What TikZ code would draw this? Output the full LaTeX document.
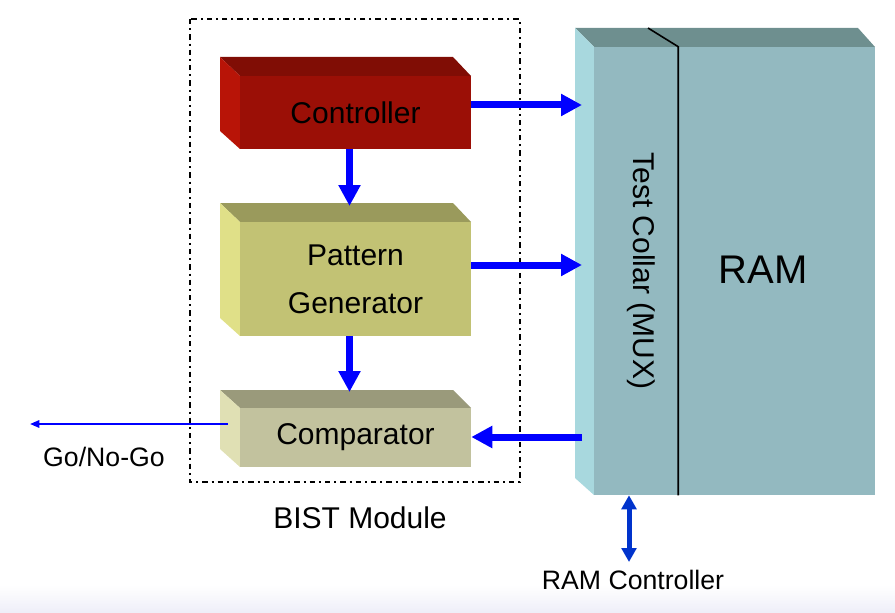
\documentclass[tikz,border=0pt]{standalone}
\usepackage{fontspec}
\setmainfont{Liberation Sans}
\usetikzlibrary{arrows.meta}

\definecolor{ctrlfront}{RGB}{155,15,6}
\definecolor{ctrltop}{RGB}{128,13,5}
\definecolor{ctrlside}{RGB}{184,20,7}
\definecolor{pgfront}{RGB}{194,194,116}
\definecolor{pgtop}{RGB}{154,154,92}
\definecolor{pgside}{RGB}{224,224,136}
\definecolor{cmpfront}{RGB}{194,194,158}
\definecolor{cmptop}{RGB}{154,154,123}
\definecolor{cmpside}{RGB}{224,224,180}
\definecolor{ramfront}{RGB}{147,185,192}
\definecolor{ramtop}{RGB}{110,143,143}
\definecolor{ramside}{RGB}{168,216,222}
\definecolor{busblue}{RGB}{0,0,255}
\definecolor{ctlblue}{RGB}{0,51,204}
\definecolor{bglav}{RGB}{238,238,248}

\tikzset{
  block/.style={inner sep=0pt, minimum width=173.25pt, font=\fontsize{22.5}{27}\selectfont, align=center},
  bus/.style={busblue, line width=5.25pt, -{Triangle[width=15.75pt,length=15.75pt]}},
  thinbus/.style={busblue, line width=1.5pt, -{Triangle[width=5.5pt,length=7pt]}},
  ctlbus/.style={ctlblue, line width=3.75pt, {Triangle[width=11pt,length=10.5pt]}-{Triangle[width=11pt,length=10.5pt]}},
  lbl/.style={inner sep=0pt, font=\fontsize{22.5}{27}\selectfont},
  smalllbl/.style={inner sep=0pt, font=\fontsize{20}{24}\selectfont},
}

\begin{document}
\begin{tikzpicture}[x=0.75pt,y=0.75pt,yscale=-1.0,xscale=1.0]
\useasboundingbox (0,0) rectangle (895,613);
\shade[top color=white, bottom color=bglav] (0,585) rectangle (895,613);

% BIST frame
\draw[line width=1.2pt, dash pattern=on 4pt off 3pt on 1.5pt off 3pt] (190,19) rectangle (520,482);
\node[lbl] (bist) at (360,518) {BIST Module};

% Controller
\fill[ctrltop] (240,76) -- (220,57) -- (453,57) -- (471,76) -- cycle;
\fill[ctrlside] (240,76) -- (220,57) -- (220,131) -- (240,149) -- cycle;
\node[block, fill=ctrlfront, minimum height=54.75pt] (ctrl) at (355.5,112.5) {Controller};

% Pattern Generator
\fill[pgtop] (240,222) -- (220,203) -- (453,203) -- (471,222) -- cycle;
\fill[pgside] (240,222) -- (220,203) -- (220,318) -- (240,336) -- cycle;
\node[block, fill=pgfront, minimum height=85.5pt] (pg) at (355.5,279) {Pattern\\[9pt]Generator};

% Comparator
\fill[cmptop] (240,408) -- (220,390) -- (453,390) -- (471,408) -- cycle;
\fill[cmpside] (240,408) -- (220,390) -- (220,449) -- (240,467) -- cycle;
\node[block, fill=cmpfront, minimum height=44.25pt] (cmp) at (355.5,437.5) {Comparator};

% RAM with test collar
\fill[ramtop] (594,47) -- (575,28) -- (858,28) -- (875,47) -- cycle;
\fill[ramside] (594,47) -- (575,28) -- (575,478) -- (594,495) -- cycle;
\node[inner sep=0pt, fill=ramfront, minimum width=63pt, minimum height=336pt] (collar) at (636,271) {};
\node[inner sep=0pt, fill=ramfront, minimum width=147.75pt, minimum height=336pt] (ram) at (776.5,271) {};
\draw[line width=1.2pt] (648,28) -- (collar.north east) -- (collar.south east);
\node[lbl, rotate=-90] (mux) at (641,271) {Test Collar (MUX)};
\node[inner sep=0pt, font=\fontsize{30}{36}\selectfont] (ramtxt) at (763,270) {RAM};

% arrow ends
\coordinate (c1) at (582,105);
\coordinate (c2) at (582,265);
\coordinate (c3) at (582,437);
\coordinate (pgin) at (349.5,206);
\coordinate (cmpin) at (349.5,392);
\coordinate (gostart) at (228,424);
\coordinate (goend) at (30,424);
\coordinate (ctlend) at (629,562);

\draw[bus] (ctrl.east |- c1) -- (c1);
\draw[bus] (pg.east |- c2) -- (c2);
\draw[bus] (c3) -- (cmp.east |- c3);
\draw[bus] (ctrl.south -| pgin) -- (pgin);
\draw[bus] (pg.south -| cmpin) -- (cmpin);
\draw[thinbus] (gostart) -- (goend);
\draw[ctlbus] (ctlend |- collar.south) -- (ctlend);

\node[smalllbl] (gonogo) at (104,457) {Go/No-Go};
\node[smalllbl] (ramctl) at (633,580) {RAM Controller};
\end{tikzpicture}
\end{document}
